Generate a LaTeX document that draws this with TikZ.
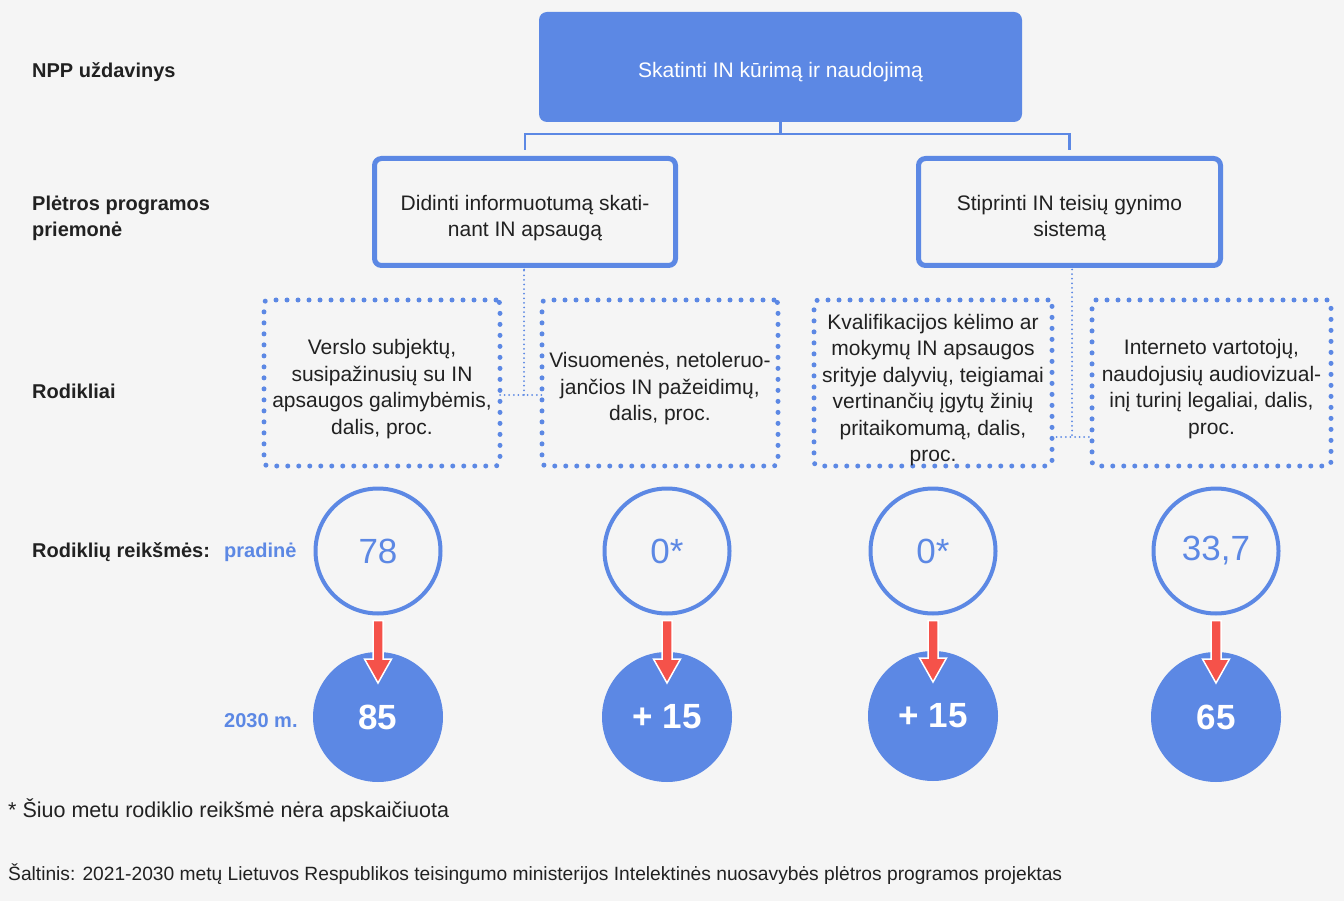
\documentclass[tikz,border=0pt]{standalone}
\usepackage{fontspec}
\setmainfont{Liberation Sans}
\usetikzlibrary{calc}
\definecolor{bl}{RGB}{92,136,228}
\definecolor{rd}{RGB}{245,82,74}
\definecolor{bg}{RGB}{245,245,245}
\definecolor{tx}{RGB}{33,33,33}
\begin{document}
\begin{tikzpicture}[x=1pt,y=-1pt,
  bodyfont/.style={font=\fontsize{21}{26.5}\selectfont},
  btext/.style={align=center, bodyfont, text=tx, inner sep=0pt},
  topbox/.style={fill=bl, rounded corners=8pt, inner sep=0pt, outer sep=0pt, minimum width=483pt, minimum height=110pt},
  solidbox/.style={draw=bl, line width=5pt, rounded corners=7pt, fill=bg, inner sep=0pt, outer sep=0pt, minimum height=107pt},
  dotbox/.style={draw=bl, line width=5pt, line cap=round, dash pattern=on 0pt off 11pt, rounded corners=4pt, inner sep=0pt, outer sep=0pt, minimum height=166pt},
  conn/.style={draw=bl, line width=2.6pt},
  dotconn/.style={draw=bl, line width=2pt, line cap=round, dash pattern=on 0pt off 4.6pt},
  ocirc/.style={circle, draw=bl, line width=4pt, minimum size=125pt, inner sep=0pt, outer sep=0pt, text=bl, font=\fontsize{35}{40}\selectfont},
  fcirc/.style={circle, fill=bl, minimum size=130pt, inner sep=0pt, outer sep=0pt, text=white, font=\fontsize{35}{40}\selectfont\bfseries},
  lbl/.style={anchor=west, inner sep=0pt, align=left, text=tx, font=\fontsize{20}{26}\selectfont\bfseries},
  blbl/.style={anchor=west, inner sep=0pt, text=bl, font=\fontsize{20}{26}\selectfont\bfseries},
  note/.style={anchor=west, inner sep=0pt, text=tx},
  arr/.style={fill=rd, draw=white, line width=1.5pt, line join=miter}
]
\fill[bg] (0,0) rectangle (1344,901);
\useasboundingbox (0,0) rectangle (1344,901);

% left labels
\node[lbl] (l1) at (32,72) {NPP uždavinys};
\node[lbl] (l2) at (32,218) {Plėtros programos\\priemonė};
\node[lbl] (l3) at (32,391) {Rodikliai};
\node[lbl] (l4) at (32,552) {Rodiklių reikšmės:};
\node[blbl] (l5) at (224,552) {pradinė};
\node[blbl] (l6) at (224,721) {2030 m.};

% top
\node[topbox] (top) at (780.5,67) {};
\node[btext, text=white] (topt) at ($(top.center)+(0,5)$) {Skatinti IN kūrimą ir naudojimą};
\node[solidbox, minimum width=301pt] (b1) at (525,212) {};
\node[btext] (b1t) at ($(b1.center)+(0,6)$) {Didinti informuotumą skati-\\nant IN apsaugą};
\node[solidbox, minimum width=302pt] (b2) at (1069.5,212) {};
\node[btext] (b2t) at ($(b2.center)+(0,6)$) {Stiprinti IN teisių gynimo\\sistemą};

\coordinate (hm) at ($(top.south)+(0,12)$);
\draw[conn] (top.south) -- (hm);
\draw[conn, shorten >=8pt] (hm) -| (b1.north);
\draw[conn, shorten >=8pt] (hm) -| (b2.north);

% indicators
\node[dotbox, minimum width=236pt] (d1) at (382,383) {};
\node[btext] (d1t) at ($(d1.center)+(0,6)$) {Verslo subjektų,\\susipažinusių su IN\\apsaugos galimybėmis,\\dalis, proc.};
\node[dotbox, minimum width=236pt] (d2) at (660,383) {};
\node[btext] (d2t) at ($(d2.center)+(0,6)$) {Visuomenės, netoleruo-\\jančios IN pažeidimų,\\dalis, proc.};
\node[dotbox, minimum width=238pt] (d3) at (933,383) {};
\node[btext] (d3t) at ($(d3.center)+(0,7)$) {Kvalifikacijos kėlimo ar\\mokymų IN apsaugos\\srityje dalyvių, teigiamai\\vertinančių įgytų žinių\\pritaikomumą, dalis,\\proc.};
\node[dotbox, minimum width=239pt] (d4) at (1211.5,383) {};
\node[btext] (d4t) at ($(d4.center)+(0,6)$) {Interneto vartotojų,\\naudojusių audiovizual-\\inį turinį legaliai, dalis,\\proc.};

\coordinate (j1) at (524,395);
\coordinate (j2) at (1072,437);
\draw[dotconn] ($(b1.south)+(-1,4)$) -- (b1.south -| j1) -- (j1);
\draw[dotconn] (d1.east |- j1) -- (d2.west |- j1);
\draw[dotconn] ($(b2.south)+(2.5,4)$) -- (j2);
\draw[dotconn] (d3.east |- j2) -- (d4.west |- j2);

% values
\node[ocirc] (o1) at (378,551) {78};
\node[ocirc] (o2) at (667,551) {0*};
\node[ocirc] (o3) at (933,551) {0*};
\node[ocirc] (o4) at (1216,551) {33,7};
\node[fcirc] (f1) at (378,717) {85};
\node[fcirc] (f2) at (667,717) {+ 15};
\node[fcirc] (f3) at (933,716) {+ 15};
\node[fcirc] (f4) at (1216,717) {65};

\foreach \i in {1,2,3,4}{
  \path[arr] let \p1=($(o\i.south)+(0,7)$), \p2=($(f\i.north)+(0,31)$) in
    (\x1-5pt,\y1) -- (\x1+5pt,\y1) -- (\x1+5pt,\y2+24pt) -- (\x1+13.5pt,\y2+24pt)
    -- (\x1,\y2) -- (\x1-13.5pt,\y2+24pt) -- (\x1-5pt,\y2+24pt) -- cycle;
}

% notes
\node[note, font=\fontsize{21.5}{26}\selectfont] (n1) at (8,810) {* Šiuo metu rodiklio reikšmė nėra apskaičiuota};
\node[note, font=\fontsize{19.2}{23}\selectfont] (n2) at (8,874) {Šaltinis: 2021-2030 metų Lietuvos Respublikos teisingumo ministerijos Intelektinės nuosavybės plėtros programos projektas};
\end{tikzpicture}
\end{document}
